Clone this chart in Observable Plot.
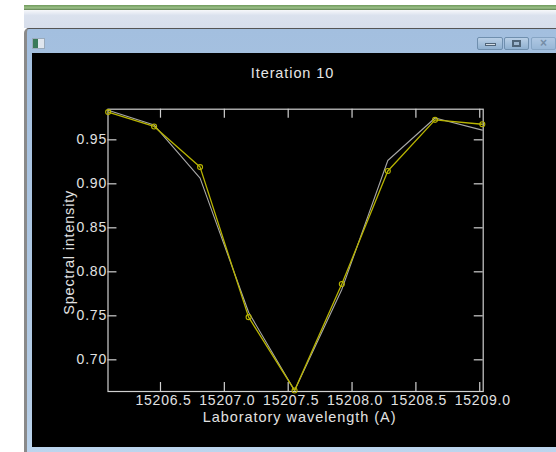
<!DOCTYPE html>
<html><head><meta charset="utf-8">
<script src="https://cdn.jsdelivr.net/npm/d3@7"></script>
<script src="https://cdn.jsdelivr.net/npm/@observablehq/plot@0.6"></script>
<style>
html,body{margin:0;padding:0;width:556px;height:452px;overflow:hidden;background:#fff;font-family:"Liberation Sans",Arial,sans-serif}
.abs{position:absolute}
#band{left:24px;top:5px;width:532px;height:5px;background:linear-gradient(#6f9a5c,#9cc088 60%,#5f7f50)}
#strip{left:24px;top:10px;width:532px;height:18px;background:linear-gradient(#f7f8fb,#dbe2ee 30%,#d7deeb)}
#win{left:24px;top:28px;width:532px;height:424px;background:linear-gradient(#a3bfdf,#b5cde6 90%,#bcd5ee);border-top:1px solid #555;border-left:3px solid #8a8a8a;border-top-left-radius:5px;box-sizing:border-box}
#icon{left:32px;top:38px;width:11px;height:9px;background:linear-gradient(90deg,#3a7a5a 50%,#dfe6ee 50%);border:1px solid #9ab}
.btn{top:37px;height:13px;border:1px solid #6f8fae;border-radius:2px;background:linear-gradient(#b9cfe6,#8fb0d0);box-sizing:border-box}
.btn i{position:absolute;display:block;background:#d4dde6;border:1px solid #4f6478;box-sizing:border-box}
#panel{left:32px;top:53px;width:524px;height:394px;background:#000}
#title{left:32px;top:65px;width:524px;box-sizing:border-box;padding-right:3px;text-align:center;color:#e6e6e6;font-size:14.5px;line-height:17px;letter-spacing:.9px}
#chart{left:31px;top:53px}
#chart svg{display:block;background:transparent}
.tl text{letter-spacing:.8px}
.al text{letter-spacing:.95px}
</style></head><body>
<div class="abs" id="band"></div><div class="abs" id="strip"></div><div class="abs" id="win"></div>
<div class="abs" id="icon"></div>
<div class="abs btn" style="left:477px;width:26px"><i style="left:7px;top:5px;width:11px;height:3px"></i></div>
<div class="abs btn" style="left:504px;width:25px"><i style="left:7px;top:2px;width:9px;height:7px;background:#9db6cf;border-width:2px"></i></div>
<div class="abs btn" style="left:531px;width:25px;opacity:.55;text-align:center;font-size:12px;line-height:10px;font-weight:bold;color:#4f6478">×</div>
<div class="abs" id="panel"></div>
<div class="abs" id="chart"></div>
<div class="abs" id="title">Iteration 10</div>
<script>
const wavelength = [15206.09, 15206.45, 15206.81, 15207.19, 15207.55, 15207.92, 15208.28, 15208.65, 15209.02];
const observed = [0.9815, 0.9652, 0.9190, 0.7485, 0.6652, 0.7862, 0.9145, 0.9727, 0.9677];
const model = [0.9835, 0.9668, 0.9065, 0.7540, 0.6652, 0.7800, 0.9265, 0.9748, 0.9610];
const xTicks = [15206.5, 15207.0, 15207.5, 15208.0, 15208.5, 15209.0];
const yTicks = [0.70, 0.75, 0.80, 0.85, 0.90, 0.95];
const xDomain = [15206.089, 15209.027];
const yDomain = [0.664, 0.9848];
const axisColor = "#d0d0d0", textColor = "#e2e2e2", yellow = "#b8b400";
const rows = wavelength.map((w, i) => ({w, observed: observed[i], model: model[i]}));

const chart = Plot.plot({
  width: 525, height: 394,
  marginLeft: 76.5, marginRight: 73.3, marginTop: 55.7, marginBottom: 56,
  style: {background: "transparent", color: textColor, fontFamily: "'Liberation Sans',Arial,sans-serif", overflow: "visible"},
  x: {domain: xDomain, axis: null},
  y: {domain: yDomain, axis: null},
  marks: [
    Plot.frame({stroke: axisColor, strokeWidth: 1.2}),
    Plot.ruleX(xTicks, {x: d => d, y1: yDomain[0], y2: yDomain[0] + 0.0102, stroke: axisColor, strokeWidth: 1.2}),
    Plot.ruleX(xTicks, {x: d => d, y1: yDomain[1], y2: yDomain[1] - 0.0102, stroke: axisColor, strokeWidth: 1.2}),
    Plot.ruleY(yTicks, {y: d => d, x1: xDomain[0], x2: xDomain[0] + 0.07, stroke: axisColor, strokeWidth: 1.2}),
    Plot.ruleY(yTicks, {y: d => d, x1: xDomain[1], x2: xDomain[1] - 0.07, stroke: axisColor, strokeWidth: 1.2}),
    Plot.text(xTicks, {x: d => d, y: yDomain[0], text: d => d.toFixed(1), dx: 3, dy: 9.5, fill: textColor, fontSize: 14, textAnchor: "middle", className: "tl"}),
    Plot.text(yTicks, {x: xDomain[0], y: d => d, text: d => d.toFixed(2), dx: -1, fill: textColor, fontSize: 14, textAnchor: "end", className: "tl"}),
    Plot.text(["Laboratory wavelength (A)"], {x: d3.mean(xDomain), y: yDomain[0], text: d => d, dx: 4, dy: 25.5, fill: textColor, fontSize: 14.5, className: "al"}),
    Plot.text(["Spectral intensity"], {x: xDomain[0], y: d3.mean(yDomain), text: d => d, dx: -38.5, dy: 2, rotate: -90, fill: textColor, fontSize: 14.5, className: "tl"}),
    Plot.line(rows, {x: "w", y: "model", stroke: "#a8a8a8", strokeWidth: 1.1}),
    Plot.line(rows, {x: "w", y: "observed", stroke: yellow, strokeWidth: 1.3}),
    Plot.dot(rows, {x: "w", y: "observed", r: 2.5, stroke: yellow, strokeWidth: 1.1})
  ]
});
document.getElementById("chart").append(chart);
</script>
</body></html>
